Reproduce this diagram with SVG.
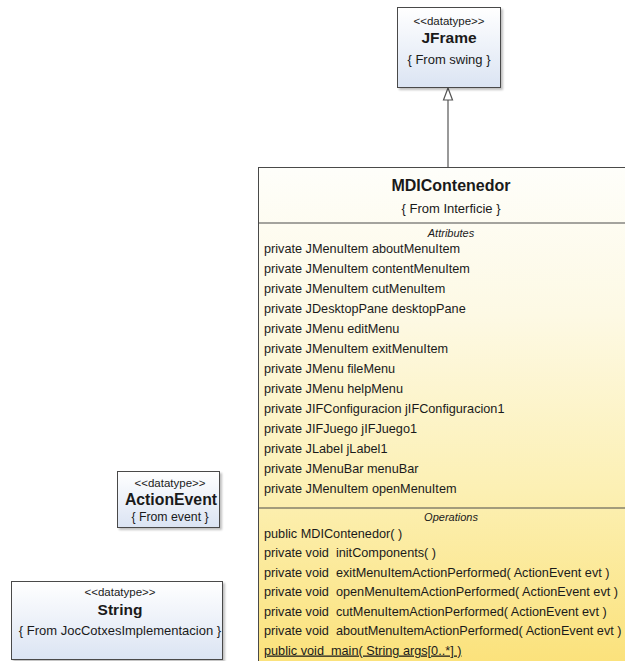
<svg xmlns="http://www.w3.org/2000/svg" width="625" height="661" viewBox="0 0 625 661">
  <defs>
    <linearGradient id="gClass" gradientUnits="userSpaceOnUse" x1="0" y1="167" x2="0" y2="661">
      <stop offset="0" stop-color="#fefefa"/>
      <stop offset="0.3" stop-color="#fdf9e4"/>
      <stop offset="0.65" stop-color="#fcf0b4"/>
      <stop offset="1" stop-color="#fbe27c"/>
    </linearGradient>
    <linearGradient id="gType" x1="0" y1="0" x2="0" y2="1">
      <stop offset="0" stop-color="#ffffff"/>
      <stop offset="1" stop-color="#dbe4f3"/>
    </linearGradient>
    <filter id="shadow" x="-10%" y="-10%" width="130%" height="130%">
      <feGaussianBlur in="SourceAlpha" stdDeviation="1.2"/>
      <feOffset dx="1.5" dy="1.5"/>
      <feComponentTransfer><feFuncA type="linear" slope="0.25"/></feComponentTransfer>
      <feMerge><feMergeNode/><feMergeNode in="SourceGraphic"/></feMerge>
    </filter>
  </defs>
  <style>
    text { font-family: "Liberation Sans", Arial, sans-serif; fill: #1a1a1a; }
    .box { stroke: #4a4a4a; stroke-width: 1; filter: url(#shadow); }
    .type { fill: url(#gType); }
    .cls { fill: url(#gClass); }
    .sep { stroke: #4a4a4a; stroke-width: 1.2; }
    .stereo { font-size: 11.5px; text-anchor: middle; }
    .name { font-size: 15.5px; font-weight: bold; text-anchor: middle; }
    .from { font-size: 13px; text-anchor: middle; }
    .sect { font-size: 11px; font-style: italic; text-anchor: middle; }
    .mem { font-size: 12.7px; }
    .edge { stroke: #555; stroke-width: 1.2; fill: none; }
  </style>

  <rect width="625" height="661" fill="#ffffff"/>

  <!-- connectors -->
  <g id="connectors">
    <line class="edge" x1="448" y1="100" x2="448" y2="167"/>
    <polygon points="448,88 452.5,100 443.5,100" fill="#ffffff" stroke="#555" stroke-width="1.2"/>
  </g>

  <!-- JFrame -->
  <g id="JFrame">
    <rect class="box type" x="397.5" y="7.5" width="103" height="80"/>
    <text class="stereo" x="449" y="25">&lt;&lt;datatype&gt;&gt;</text>
    <text class="name" x="449" y="43">JFrame</text>
    <text class="from" x="449" y="64">{ From swing }</text>
  </g>

  <!-- MDIContenedor -->
  <g id="MDIContenedor">
    <rect class="box cls" x="258.5" y="167.5" width="380" height="510"/>
    <text class="name" x="451" y="191" style="font-size:16px">MDIContenedor</text>
    <text class="from" x="451" y="213">{ From Interficie }</text>
    <line class="sep" x1="258.5" y1="223" x2="640" y2="223"/>
    <text class="sect" x="451" y="237">Attributes</text>
    <text class="mem" x="264" y="252.5">private JMenuItem aboutMenuItem</text>
    <text class="mem" x="264" y="272.5">private JMenuItem contentMenuItem</text>
    <text class="mem" x="264" y="292.5">private JMenuItem cutMenuItem</text>
    <text class="mem" x="264" y="312.5">private JDesktopPane desktopPane</text>
    <text class="mem" x="264" y="332.5">private JMenu editMenu</text>
    <text class="mem" x="264" y="352.5">private JMenuItem exitMenuItem</text>
    <text class="mem" x="264" y="372.5">private JMenu fileMenu</text>
    <text class="mem" x="264" y="392.5">private JMenu helpMenu</text>
    <text class="mem" x="264" y="412.5">private JIFConfiguracion jIFConfiguracion1</text>
    <text class="mem" x="264" y="432.5">private JIFJuego jIFJuego1</text>
    <text class="mem" x="264" y="452.5">private JLabel jLabel1</text>
    <text class="mem" x="264" y="472.5">private JMenuBar menuBar</text>
    <text class="mem" x="264" y="492.5">private JMenuItem openMenuItem</text>
    <line class="sep" x1="258.5" y1="508" x2="640" y2="508"/>
    <text class="sect" x="451" y="521">Operations</text>
    <text class="mem" x="264" y="537.5">public MDIContenedor( )</text>
    <text class="mem" x="264" y="557" xml:space="preserve">private void  initComponents( )</text>
    <text class="mem" x="264" y="576.5" xml:space="preserve">private void  exitMenuItemActionPerformed( ActionEvent evt )</text>
    <text class="mem" x="264" y="596" xml:space="preserve">private void  openMenuItemActionPerformed( ActionEvent evt )</text>
    <text class="mem" x="264" y="615.5" xml:space="preserve">private void  cutMenuItemActionPerformed( ActionEvent evt )</text>
    <text class="mem" x="264" y="635" xml:space="preserve">private void  aboutMenuItemActionPerformed( ActionEvent evt )</text>
    <text class="mem" x="264" y="654.5" text-decoration="underline" xml:space="preserve">public void  main( String args[0..*] )</text>
  </g>

  <!-- ActionEvent -->
  <g id="ActionEvent">
    <rect class="box type" x="117.5" y="471.5" width="102" height="56"/>
    <text class="stereo" x="170" y="487">&lt;&lt;datatype&gt;&gt;</text>
    <text class="name" x="171" y="505" style="font-size:15.8px">ActionEvent</text>
    <text class="from" x="170" y="521" style="font-size:12.3px">{ From event }</text>
  </g>

  <!-- String -->
  <g id="String">
    <rect class="box type" x="11.5" y="581.5" width="211" height="78"/>
    <text class="stereo" x="120" y="596">&lt;&lt;datatype&gt;&gt;</text>
    <text class="name" x="120" y="615">String</text>
    <text class="from" x="120" y="635">{ From JocCotxesImplementacion }</text>
  </g>
</svg>
